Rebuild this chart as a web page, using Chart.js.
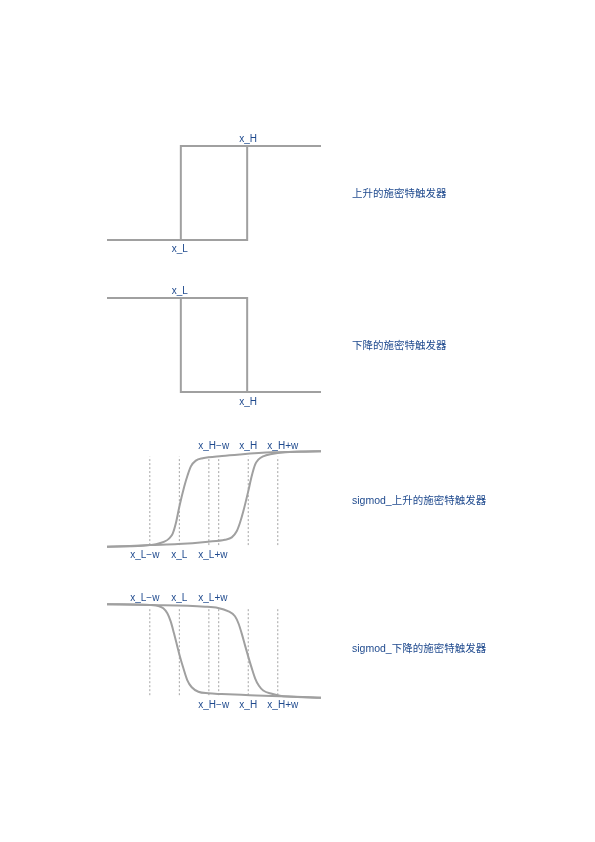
<!DOCTYPE html>
<html>
<head>
<meta charset="utf-8">
<script src="https://cdn.jsdelivr.net/npm/chart.js@4.4.1/dist/chart.umd.min.js"></script>
<style>
  html, body { margin: 0; padding: 0; background: #ffffff; }
  #wrap { position: relative; width: 595px; height: 842px; overflow: hidden; }
  #wrap canvas { position: absolute; left: 0; top: 0; }
</style>
</head>
<body>
<div id="wrap">
  <canvas id="c1" width="595" height="842"></canvas>
  <canvas id="c2" width="595" height="842"></canvas>
  <canvas id="c3" width="595" height="842"></canvas>
  <canvas id="c4" width="595" height="842"></canvas>
</div>
<script>
// ---------------- DATA ----------------
// panel titles
const titles = ['上升的施密特触发器', '下降的施密特触发器', 'sigmod_上升的施密特触发器', 'sigmod_下降的施密特触发器'];

// step thresholds (x axis 0..10, y axis 0..1)
const stepLow = 3.45;   // x_L
const stepHigh = 6.55;  // x_H

// rising step trigger
const riseLowerX = [0, stepHigh, stepHigh, 10];
const riseLowerY = [0, 0, 1, 1];
const riseUpperX = [0, stepLow, stepLow, 10];
const riseUpperY = [0, 0, 1, 1];
// falling step trigger
const fallUpperX = [0, stepHigh, stepHigh, 10];
const fallUpperY = [1, 1, 0, 0];
const fallLowerX = [0, stepLow, stepLow, 10];
const fallLowerY = [1, 1, 0, 0];

// step tick labels
const stepTopLabelsRise = ['x_H'];
const stepTopValuesRise = [stepHigh];
const stepBottomLabelsRise = ['x_L'];
const stepBottomValuesRise = [stepLow];
const stepTopLabelsFall = ['x_L'];
const stepTopValuesFall = [stepLow];
const stepBottomLabelsFall = ['x_H'];
const stepBottomValuesFall = [stepHigh];

// sigmoid guide positions: x_L-w, x_L, x_L+w, x_H-w, x_H, x_H+w
const guideX = [2.0, 3.38, 4.76, 5.22, 6.6, 7.98];
const lowLabels = ['x_L−w', 'x_L', 'x_L+w'];
const lowValues = [2.0, 3.38, 4.76];
const highLabels = ['x_H−w', 'x_H', 'x_H+w'];
const highValues = [5.22, 6.6, 7.98];

// sigmoid rising: branch switching near x_H (lower branch)
const sigRiseAX = [0, 1.07, 2.01, 3.32, 4.72, 5.51, 5.83, 6.06, 6.21, 6.37, 6.60, 6.76, 6.92, 7.07, 7.30, 7.70, 8.32, 9.02, 10];
const sigRiseAY = [0.003, 0.01, 0.02, 0.03, 0.055, 0.076, 0.10, 0.164, 0.25, 0.372, 0.58, 0.736, 0.857, 0.91, 0.945, 0.969, 0.987, 0.993, 0.997];
// sigmoid rising: branch switching near x_L (upper branch)
const sigRiseBX = [0, 1.66, 2.29, 2.68, 2.91, 3.07, 3.22, 3.38, 3.61, 3.77, 3.92, 4.15, 4.47, 5.37, 6.21, 7.70, 9.02, 10];
const sigRiseBY = [0.003, 0.012, 0.03, 0.055, 0.09, 0.14, 0.25, 0.42, 0.63, 0.75, 0.84, 0.90, 0.924, 0.948, 0.964, 0.986, 0.994, 0.997];

// sigmoid falling: drop near x_L
const sigFallAX = [0, 2.01, 2.40, 2.63, 2.82, 2.98, 3.13, 3.29, 3.41, 3.57, 3.75, 3.96, 4.27, 4.73, 5.36, 6.68, 7.70, 8.46, 10];
const sigFallAY = [0.998, 0.989, 0.979, 0.954, 0.901, 0.812, 0.688, 0.546, 0.439, 0.316, 0.191, 0.114, 0.067, 0.05, 0.042, 0.03, 0.021, 0.016, 0.003];
// sigmoid falling: drop near x_H
const sigFallBX = [0, 2.01, 4.58, 5.19, 5.65, 5.98, 6.15, 6.29, 6.45, 6.60, 6.76, 6.92, 7.10, 7.30, 7.70, 8.08, 8.46, 10];
const sigFallBY = [0.998, 0.99, 0.972, 0.958, 0.925, 0.87, 0.79, 0.69, 0.56, 0.44, 0.32, 0.21, 0.13, 0.08, 0.045, 0.025, 0.016, 0.003];

// ---------------- STYLE / BUILD ----------------
const LINE = '#a0a0a0';
const GUIDE = '#a5a5a5';
const TEXT = '#1f4a8e';
const LABEL_FONT = '10px "Liberation Sans", "Noto Sans CJK SC", sans-serif';
const TITLE_FONT = '10.5px "Liberation Sans", "Noto Sans CJK SC", sans-serif';

function pts(xs, ys) { return xs.map((x, i) => ({ x: x, y: ys[i] })); }

function curve(xs, ys, smooth) {
  return {
    data: pts(xs, ys),
    borderColor: LINE,
    borderWidth: 2,
    pointRadius: 0,
    showLine: true,
    fill: false,
    tension: 0,
    cubicInterpolationMode: smooth ? 'monotone' : 'default',
    borderJoinStyle: 'miter',
    clip: false,
    order: 0
  };
}

function guide(x, lo, hi) {
  return {
    data: [{ x: x, y: lo }, { x: x, y: hi }],
    borderColor: GUIDE,
    borderWidth: 1,
    borderDash: [2, 2],
    pointRadius: 0,
    showLine: true,
    fill: false,
    clip: false,
    order: 5
  };
}

function labelPlugin(cfg) {
  return {
    id: 'labels_' + Math.random().toString(36).slice(2),
    afterDraw(chart) {
      const ctx = chart.ctx;
      const xs = chart.scales.x;
      const area = chart.chartArea;
      ctx.save();
      ctx.fillStyle = TEXT;
      ctx.font = LABEL_FONT;
      ctx.textAlign = 'center';
      ctx.textBaseline = 'alphabetic';
      cfg.top.labels.forEach((t, i) => {
        const px = xs.getPixelForValue(cfg.top.values[i]) + (cfg.top.nudge ? cfg.top.nudge[i] : 0);
        ctx.fillText(t, px, area.top + cfg.top.dy);
      });
      cfg.bottom.labels.forEach((t, i) => {
        const px = xs.getPixelForValue(cfg.bottom.values[i]) + (cfg.bottom.nudge ? cfg.bottom.nudge[i] : 0);
        ctx.fillText(t, px, area.bottom + cfg.bottom.dy);
      });
      ctx.font = TITLE_FONT;
      ctx.textAlign = 'left';
      ctx.textBaseline = 'middle';
      ctx.fillText(cfg.title, cfg.titleX, (area.top + area.bottom) / 2 + cfg.titleDy);
      ctx.restore();
    }
  };
}

function makeChart(id, padTop, padBottom, datasets, cfg) {
  return new Chart(document.getElementById(id), {
    type: 'scatter',
    data: { datasets: datasets },
    options: {
      responsive: false,
      devicePixelRatio: 1,
      animation: false,
      events: [],
      layout: { padding: { left: 107, right: 274, top: padTop, bottom: padBottom } },
      scales: {
        x: { type: 'linear', min: 0, max: 10, display: false },
        y: { type: 'linear', min: 0, max: 1, display: false }
      },
      plugins: { legend: { display: false }, tooltip: { enabled: false }, title: { display: false } }
    },
    plugins: [labelPlugin(cfg)]
  });
}

// Panel 1: rising step
makeChart('c1', 146, 602, [
  curve(riseLowerX, riseLowerY, false),
  curve(riseUpperX, riseUpperY, false)
], {
  top: { labels: stepTopLabelsRise, values: stepTopValuesRise, dy: -4.3, nudge: [1] },
  bottom: { labels: stepBottomLabelsRise, values: stepBottomValuesRise, dy: 12.3, nudge: [-1] },
  title: titles[0], titleX: 352, titleDy: 1.2
});

// Panel 2: falling step
makeChart('c2', 298, 450, [
  curve(fallUpperX, fallUpperY, false),
  curve(fallLowerX, fallLowerY, false)
], {
  top: { labels: stepTopLabelsFall, values: stepTopValuesFall, dy: -4, nudge: [-1] },
  bottom: { labels: stepBottomLabelsFall, values: stepBottomValuesFall, dy: 13, nudge: [1] },
  title: titles[1], titleX: 352, titleDy: 1
});

// Panel 3: sigmoid rising
makeChart('c3', 451, 295,
  [curve(sigRiseAX, sigRiseAY, true), curve(sigRiseBX, sigRiseBY, true)]
    .concat(guideX.map(g => guide(g, 0.02, 0.94))),
  {
    top: { labels: highLabels, values: highValues, dy: -1.7, nudge: [-5, 0, 5] },
    bottom: { labels: lowLabels, values: lowValues, dy: 10.7, nudge: [-5, 0, 4] },
    title: titles[2], titleX: 352, titleDy: 2
  });

// Panel 4: sigmoid falling
makeChart('c4', 604, 144,
  [curve(sigFallAX, sigFallAY, true), curve(sigFallBX, sigFallBY, true)]
    .concat(guideX.map(g => guide(g, 0.03, 0.957))),
  {
    top: { labels: lowLabels, values: lowValues, dy: -3, nudge: [-5, 0, 4] },
    bottom: { labels: highLabels, values: highValues, dy: 9.7, nudge: [-5, 0, 5] },
    title: titles[3], titleX: 352, titleDy: -1.5
  });
</script>
</body>
</html>
